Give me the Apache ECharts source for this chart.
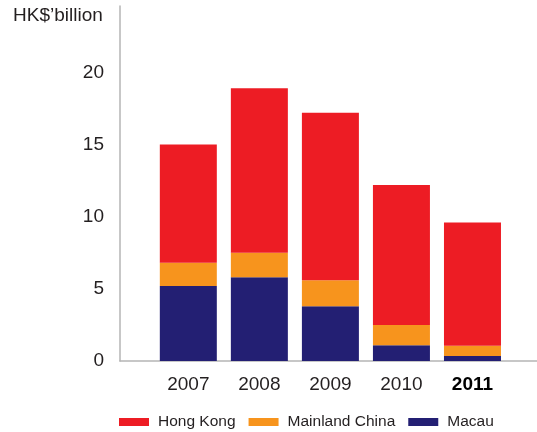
<!DOCTYPE html>
<html>
<head>
<meta charset="utf-8">
<script src="https://cdn.jsdelivr.net/npm/echarts@6/dist/echarts.min.js"></script>
<style>
  html, body { margin: 0; padding: 0; background: #fff; }
  #chart { width: 537px; height: 432px; }
</style>
</head>
<body>
<div id="chart"></div>
<script>
// Revenue by region, HK$ billion
const years = ['2007', '2008', '2009', '2010', '2011'];
const hongKong = [8.2, 11.4, 11.6, 9.7, 8.55];
const mainlandChina = [1.6, 1.7, 1.8, 1.4, 0.7];
const macau = [5.2, 5.8, 3.8, 1.1, 0.35];
const yTicks = [0, 5, 10, 15, 20];

const FONT = '"Liberation Sans", Arial, sans-serif';
const TEXT = '#231f20';
const AXIS_GREY = '#b5b5b5';
const Y_MAX = 24.6;

const chart = echarts.init(document.getElementById('chart'), null, { renderer: 'canvas' });

chart.setOption({
  animation: false,
  backgroundColor: '#fff',
  textStyle: { fontFamily: FONT },
  title: {
    text: 'HK$\u2019billion',
    left: 13,
    top: 5,
    padding: 0,
    textStyle: { fontFamily: FONT, fontSize: 19, fontWeight: 'normal', color: TEXT, lineHeight: 22 }
  },
  legend: {
    data: ['Hong Kong', 'Mainland China', 'Macau'],
    left: 119,
    top: 413,
    padding: 0,
    icon: 'rect',
    itemWidth: 30,
    itemHeight: 8,
    itemGap: 13,
    textStyle: { fontFamily: FONT, fontSize: 15.5, color: TEXT, lineHeight: 18, padding: [0, 0, 0, 4] }
  },
  grid: [
    // frame: axis lines spanning the full plot width
    { left: 120, right: 0, top: 6, bottom: 71, containLabel: false },
    // bars
    { left: 152.8, right: 29, top: 6, bottom: 71, containLabel: false }
  ],
  xAxis: [
    {
      gridIndex: 0,
      type: 'category',
      data: years,
      axisLine: { show: true, lineStyle: { color: AXIS_GREY, width: 1.5 } },
      axisTick: { show: false },
      axisLabel: { show: false },
      splitLine: { show: false }
    },
    {
      gridIndex: 1,
      type: 'category',
      data: years,
      axisLine: { show: false },
      axisTick: { show: false },
      splitLine: { show: false },
      axisLabel: {
        interval: 0,
        margin: 14,
        fontFamily: FONT,
        fontSize: 19,
        color: TEXT,
        formatter: v => v === years[years.length - 1] ? '{b|' + v + '}' : v,
        rich: { b: { fontFamily: FONT, fontSize: 19, fontWeight: 'bold', color: '#000' } }
      }
    }
  ],
  yAxis: [
    {
      gridIndex: 0,
      type: 'value',
      min: 0,
      max: Y_MAX,
      interval: 5,
      axisLine: { show: true, lineStyle: { color: AXIS_GREY, width: 1.5 } },
      axisTick: { show: false },
      splitLine: { show: false },
      axisLabel: {
        margin: 16,
        fontFamily: FONT,
        fontSize: 19,
        color: TEXT,
        showMaxLabel: false,
        formatter: v => yTicks.includes(v) ? String(v) : ''
      }
    },
    {
      gridIndex: 1,
      type: 'value',
      min: 0,
      max: Y_MAX,
      interval: 5,
      show: false
    }
  ],
  series: [
    {
      name: 'Macau', type: 'bar', stack: 'total', xAxisIndex: 1, yAxisIndex: 1,
      barWidth: 57, data: macau, itemStyle: { color: '#231f73' }
    },
    {
      name: 'Mainland China', type: 'bar', stack: 'total', xAxisIndex: 1, yAxisIndex: 1,
      barWidth: 57, data: mainlandChina, itemStyle: { color: '#f7941d' }
    },
    {
      name: 'Hong Kong', type: 'bar', stack: 'total', xAxisIndex: 1, yAxisIndex: 1,
      barWidth: 57, data: hongKong, itemStyle: { color: '#ed1c24' }
    }
  ]
});
</script>
</body>
</html>
